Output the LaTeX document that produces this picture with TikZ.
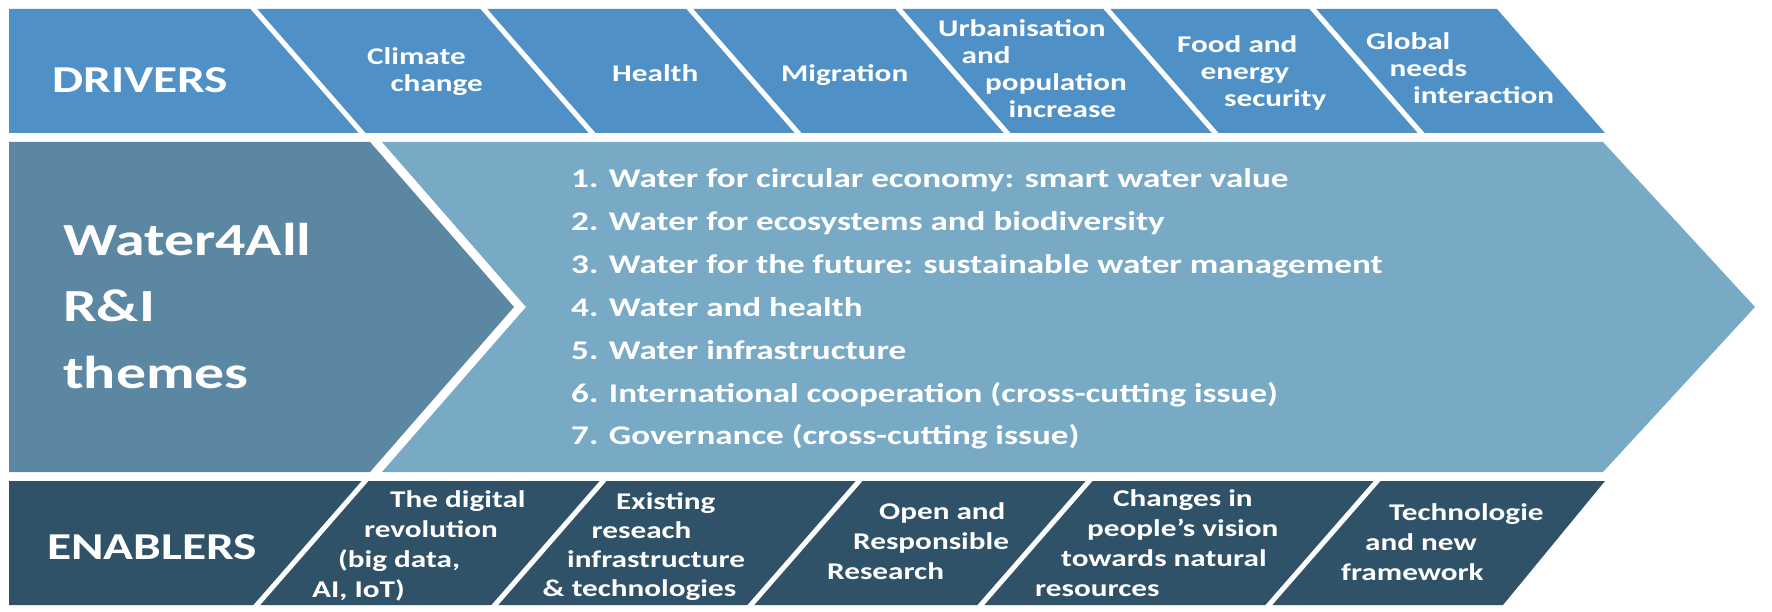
\documentclass[tikz,border=0pt]{standalone}
\usepackage{fontspec}
\setmainfont{Carlito}[FakeStretch=1.3]

\definecolor{driverblue}{RGB}{79,145,198}
\definecolor{themedark}{RGB}{91,135,162}
\definecolor{themelight}{RGB}{120,170,198}
\definecolor{enablerblue}{RGB}{47,82,104}

\tikzset{
  divider/.style={draw=white, line width=5pt},
  heading/.style={text=white, anchor=base west, inner sep=0pt, font=\bfseries\fontsize{38}{40}\selectfont},
  lbl/.style={text=white, anchor=base west, inner sep=0pt, font=\bfseries\fontsize{24}{27}\selectfont},
  themeline/.style={text=white, anchor=base west, inner sep=0pt, font=\bfseries\fontsize{27}{30}\selectfont},
  titleline/.style={text=white, anchor=base west, inner sep=0pt, font=\bfseries\fontsize{46}{50}\selectfont}
}

% slanted label: [line pitch], name, x, y of first line, shift per line, lines
\newcommand\slantlabel[6][27]{%
  \foreach \labline [count=\i from 0] in {#6}
    \node[lbl] (#2-\i) at ({#3+\i*(#5)}, {#4+\i*#1}) {\labline};
}

\begin{document}
\begin{tikzpicture}[x=1pt, y=-1pt]
  \useasboundingbox (0,0) rectangle (1772,612);

  % Drivers band
  \fill[driverblue] (9,9) -- (1497,9) -- (1605,133) -- (9,133) -- cycle;
  \foreach \m in {308,538,744,953,1161,1367}
    \draw[divider] ({\m-0.873*66},5) -- ({\m+0.873*66},137);

  % Themes chevrons
  \fill[themedark] (9,142) -- (370,142) -- (514,307) -- (370,472) -- (9,472) -- cycle;
  \fill[themelight] (382,142) -- (1603,142) -- (1755,307) -- (1603,472) -- (382,472) -- (526,307) -- cycle;

  % Enablers band
  \fill[enablerblue] (9,481) -- (1605,481) -- (1503,605) -- (9,605) -- cycle;
  \foreach \m in {311,549,805,1035,1323}
    \draw[divider] ({\m+0.873*66},477) -- ({\m-0.873*66},609);

  % Headings
  \node[heading] (drivers) at (52,93) {DRIVERS};
  \node[heading] (enablers) at (47,559) {ENABLERS};
  \foreach \t [count=\i from 0] in {Water4All, R\&I, themes}
    \node[titleline] (title-\i) at (63, {256+\i*66}) {\t};

  % Driver labels
  \slantlabel{climate}{367}{65}{23.5}{Climate, change}
  \slantlabel{health}{612}{82}{23.5}{Health}
  \slantlabel{migration}{781}{82}{23.5}{Migration}
  \slantlabel{urban}{938}{37}{23.5}{Urbanisation, and, population, increase}
  \slantlabel{food}{1177}{53}{23.5}{Food and, energy, security}
  \slantlabel{global}{1366}{50}{23.5}{Global, needs, interaction}

  % Theme list
  \foreach \t [count=\i from 0] in {
    1. Water for circular economy: smart water value,
    2. Water for ecosystems and biodiversity,
    3. Water for the future: sustainable water management,
    4. Water and health,
    5. Water infrastructure,
    6. International cooperation (cross-cutting issue),
    7. Governance (cross-cutting issue)}
    \node[themeline] (theme-\i) at (571, {188+\i*42.8}) {\t};

  % Enabler labels
  \slantlabel[30]{digital}{390}{507}{-26}{The digital, revolution, {(big data,}, {AI, IoT)}}
  \slantlabel[29]{infra}{616}{509}{-24.5}{Existing, reseach, infrastructure, \& technologies}
  \slantlabel[30]{open}{879}{519}{-26}{Open and, Responsible, Research}
  \slantlabel[30]{vision}{1113}{506}{-26}{Changes in, people’s vision, towards natural, resources}
  \slantlabel[30]{tech}{1389}{520}{-24}{Technologie, and new, framework}
\end{tikzpicture}
\end{document}
